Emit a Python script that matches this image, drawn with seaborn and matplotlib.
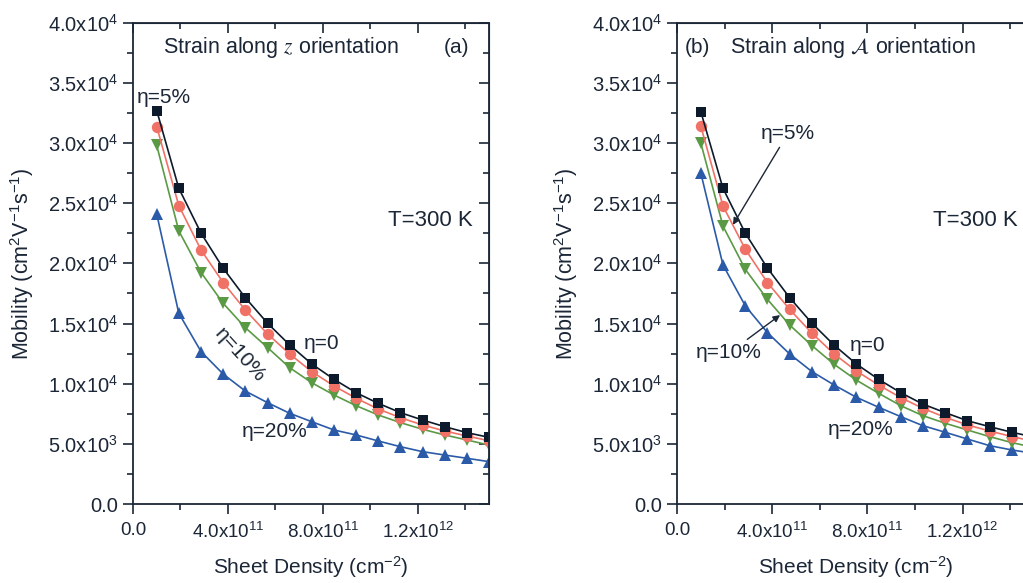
import numpy as np
import pandas as pd
import seaborn as sns
import matplotlib
matplotlib.use("Agg")
import matplotlib.pyplot as plt
from matplotlib.ticker import MultipleLocator, FuncFormatter

# sheet density (cm^-2)
density = [1.00e11, 1.93e11, 2.87e11, 3.80e11, 4.73e11, 5.67e11, 6.60e11, 7.53e11,
           8.47e11, 9.40e11, 10.33e11, 11.27e11, 12.20e11, 13.13e11, 14.07e11, 15.00e11]

# (a) strain along z
z_eta0 = [32700, 26240, 22500, 19590, 17150, 15020, 13220, 11640,
          10360, 9250, 8370, 7590, 6980, 6430, 5930, 5540]
z_eta5 = [31360, 24800, 21100, 18400, 16130, 14130, 12470, 11000,
          9810, 8790, 7900, 7170, 6570, 6070, 5650, 5260]
z_eta10 = [29800, 22700, 19230, 16680, 14660, 13000, 11330, 10080,
           9060, 8170, 7400, 6760, 6210, 5740, 5320, 4900]
z_eta20 = [24100, 15850, 12660, 10800, 9390, 8420, 7540, 6840,
           6150, 5740, 5240, 4760, 4350, 4070, 3800, 3520]

# (b) strain along A
a_eta0 = [32600, 26240, 22500, 19600, 17150, 15020, 13200, 11640,
          10360, 9250, 8300, 7590, 6920, 6430, 5960, 5560]
a_eta5 = [31400, 24770, 21170, 18400, 16180, 14190, 12470, 11060,
          9890, 8840, 7950, 7200, 6570, 6070, 5600, 5200]
a_eta10 = [30000, 23100, 19500, 17000, 14880, 13160, 11610, 10300,
           9200, 8170, 7340, 6710, 6150, 5600, 5100, 4700]
a_eta20 = [27500, 19870, 16460, 14240, 12470, 11000, 9890, 8870,
           8040, 7260, 6510, 5960, 5400, 4850, 4490, 4200]

ink = "#1b2636"
colors = {"0": "#0d1a2b", "5": "#f07266", "10": "#5b9a45", "20": "#2b5ba8"}
marks = {"0": ("s", 7.2), "5": ("o", 8.2), "10": ("v", 9), "20": ("^", 9)}

sns.set_style("ticks")
plt.rcParams["font.family"] = ["Liberation Sans", "DejaVu Sans"]
plt.rcParams["mathtext.fontset"] = "custom"
plt.rcParams["mathtext.rm"] = "Liberation Sans"
plt.rcParams["mathtext.it"] = "Liberation Sans:italic"
plt.rcParams["text.color"] = ink
plt.rcParams["axes.labelcolor"] = ink
plt.rcParams["xtick.color"] = ink
plt.rcParams["ytick.color"] = ink
plt.rcParams["axes.edgecolor"] = ink


def sci(v, pos):
    if v == 0:
        return "0.0"
    e = int(np.floor(np.log10(abs(v)) + 1e-9))
    return f"{v / 10**e:.1f}x10$^{{{e}}}$"


fig = plt.figure(figsize=(10.23, 5.83), dpi=100)
ax_a = fig.add_axes([0.130, 0.1355, 0.348, 0.8256])
ax_b = fig.add_axes([0.6618, 0.1355, 0.349, 0.8256])

panels = [
    (ax_a, {"20": z_eta20, "10": z_eta10, "5": z_eta5, "0": z_eta0}),
    (ax_b, {"20": a_eta20, "10": a_eta10, "5": a_eta5, "0": a_eta0}),
]

for ax, series in panels:
    for key, vals in series.items():
        m, ms = marks[key]
        df = pd.DataFrame({"n": density, "mu": vals})
        sns.lineplot(data=df, x="n", y="mu", ax=ax, color=colors[key], marker=m,
                     markersize=ms, markeredgewidth=0, linewidth=1.2, clip_on=True)
    ax.set_xlim(0, 1.5e12)
    ax.set_ylim(0, 4.0e4)
    ax.xaxis.set_major_locator(MultipleLocator(4e11))
    ax.xaxis.set_minor_locator(MultipleLocator(2e11))
    ax.yaxis.set_major_locator(MultipleLocator(5e3))
    ax.yaxis.set_minor_locator(MultipleLocator(2.5e3))
    ax.xaxis.set_major_formatter(FuncFormatter(sci))
    ax.yaxis.set_major_formatter(FuncFormatter(sci))
    ax.tick_params(which="major", direction="out", length=7, width=1.2, pad=4)
    ax.tick_params(which="minor", direction="out", length=4, width=1.2)
    ax.tick_params(axis="y", labelsize=14.5)
    ax.tick_params(axis="x", labelsize=13.5, pad=6)
    for sp in ax.spines.values():
        sp.set_visible(True)
        sp.set_linewidth(1.3)
    top = ax.secondary_xaxis("top")
    top.xaxis.set_major_locator(MultipleLocator(4e11))
    top.xaxis.set_minor_locator(MultipleLocator(2e11))
    top.tick_params(which="major", direction="in", length=7, width=1.2, labeltop=False)
    top.tick_params(which="minor", direction="in", length=4, width=1.2)
    right = ax.secondary_yaxis("right")
    right.yaxis.set_major_locator(MultipleLocator(5e3))
    right.yaxis.set_minor_locator(MultipleLocator(2.5e3))
    right.tick_params(which="major", direction="in", length=7, width=1.2, labelright=False)
    right.tick_params(which="minor", direction="in", length=4, width=1.2)
    ax.set_xlabel("Sheet Density (cm$^{-2}$)", fontsize=15)
    ax.set_ylabel("Mobility (cm$^2$V$^{-1}$s$^{-1}$)", fontsize=15.5)
    ax.xaxis.set_label_coords(0.5, -0.105)
    ax.yaxis.set_label_coords(-0.272, 0.5)
    ax.text(14.3e11, 2.36e4, "T=300 K", fontsize=16, ha="right", va="center")

fs = 15
# panel (a)
ax_a.text(1.26e11, 3.79e4, r"Strain along $z$ orientation", fontsize=15.5, va="center",
          math_fontfamily="stix")
ax_a.text(13.1e11, 3.79e4, "(a)", fontsize=fs, va="center")
ax_a.text(0.17e11, 3.38e4, "η=5%", fontsize=fs, va="center")
ax_a.text(7.2e11, 1.33e4, "η=0", fontsize=fs, va="center")
ax_a.text(4.5e11, 1.24e4, "η=10%", fontsize=fs, va="center", ha="center", rotation=-48)
ax_a.text(4.6e11, 0.60e4, "η=20%", fontsize=fs, va="center")

# panel (b)
ax_b.text(0.34e11, 3.79e4, "(b)", fontsize=fs, va="center")
ax_b.text(2.23e11, 3.79e4, r"Strain along $\mathcal{A}$ orientation", fontsize=15.5,
          va="center", math_fontfamily="stix")
ax_b.text(7.27e11, 1.32e4, "η=0", fontsize=fs, va="center")
ax_b.text(6.34e11, 0.615e4, "η=20%", fontsize=fs, va="center")
ax_b.annotate("η=5%", xy=(2.35e11, 2.32e4), xytext=(4.66e11, 3.08e4), fontsize=fs,
              ha="center", va="center",
              arrowprops=dict(arrowstyle="-|>", color=ink, lw=1.0, shrinkA=1, shrinkB=0,
                              mutation_scale=10))
ax_b.annotate("η=10%", xy=(4.33e11, 1.57e4), xytext=(2.18e11, 1.255e4), fontsize=fs,
              ha="center", va="center",
              arrowprops=dict(arrowstyle="-|>", color=ink, lw=1.0, shrinkA=1, shrinkB=0,
                              mutation_scale=10))

fig.savefig("out.png", dpi=100)
